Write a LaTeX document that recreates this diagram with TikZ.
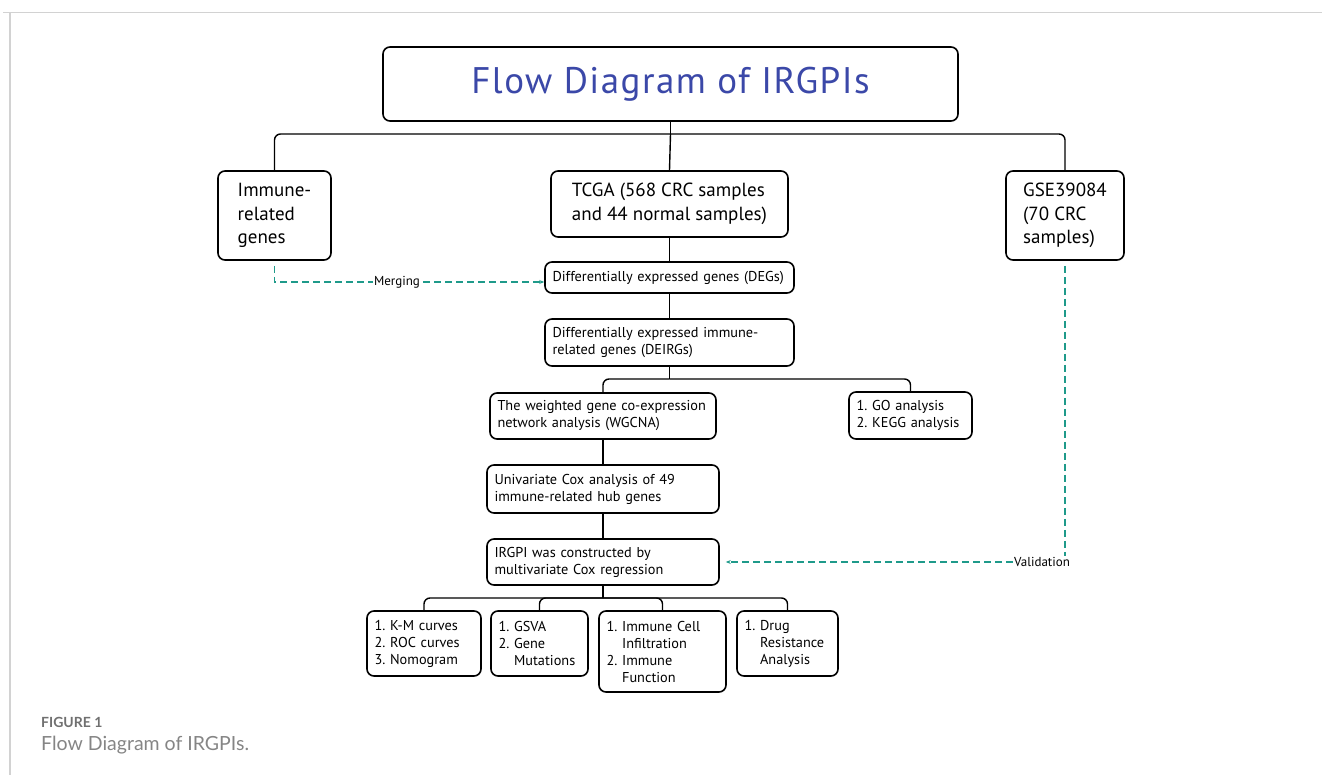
\documentclass[tikz,border=0pt]{standalone}
\usepackage{fontspec}
\setmainfont{PT Sans}
\newfontfamily\capfont{Lato}
\usetikzlibrary{arrows.meta,calc}
\frenchspacing
\definecolor{titleblue}{HTML}{3B48A8}
\definecolor{tealc}{HTML}{1F9A8A}
\definecolor{framegray}{HTML}{D2D2D2}
\definecolor{capgray}{HTML}{707070}
\definecolor{capgray2}{HTML}{858585}
\newcommand{\sm}{\fontsize{14.3}{17}\selectfont}
\newcommand{\bg}{\fontsize{19}{23.5}\selectfont}
\newcommand{\ind}{\phantom{1.~}}
\tikzset{
  box/.style={draw, line width=1.6pt, rounded corners=7pt, inner sep=0pt, align=left},
  bigbox/.style={box, font=\bg},
  smbox/.style={box, font=\sm, inner xsep=7.5pt},
  conn/.style={line width=1.4pt},
  bus/.style={line width=1.4pt, rounded corners=6pt},
  tealdash/.style={draw=tealc, line width=1.1pt, dash pattern=on 7pt off 4pt},
  tip/.style={-{Stealth[length=5pt,width=4pt]}},
  lbl/.style={font=\fontsize{13}{14}\selectfont, fill=white, inner sep=1pt}
}
\begin{document}
\begin{tikzpicture}[x=1pt,y=-1pt]
\useasboundingbox (0,0) rectangle (1322,775);
% frame
\draw[framegray, line width=1.3pt] (3,12.5) -- (1322,12.5);
\draw[framegray, line width=1.3pt] (10,12.5) -- (10,775);

% title
\node[box, minimum width=575pt, minimum height=74pt, align=center,
      font=\fontsize{37}{42}\selectfont, text=titleblue] (title) at (670.5,84)
      {\addfontfeature{LetterSpace=4}Flow Diagram of IRGPIs};

% level 1
\node[bigbox, minimum width=113pt, minimum height=89pt] (immune) at (274.5,215.5)
  {Immune-\\related\\genes};
\node[bigbox, minimum width=237pt, minimum height=66pt] (tcga) at (669.5,204)
  {TCGA (568 CRC samples\\and 44 normal samples)};
\node[bigbox, minimum width=118pt, minimum height=89pt] (gse) at (1065,215.5)
  {GSE39084\\(70 CRC\\samples)};

% chain
\node[smbox, text width=234pt, minimum height=31pt] (degs) at (669.5,277.5)
  {Differentially expressed genes (DEGs)};
\node[smbox, text width=234pt, minimum height=47pt] (deirgs) at (669.5,342.5)
  {Differentially expressed immune-\\related genes (DEIRGs)};
\node[smbox, text width=211pt, minimum height=46pt] (wgcna) at (603,416)
  {The weighted gene co-expression\\network analysis (WGCNA)};
\node[smbox, text width=108pt, minimum height=47pt] (go) at (910.5,415.5)
  {1. GO analysis\\2. KEGG analysis};
\node[smbox, text width=217pt, minimum height=48pt] (univ) at (603,489)
  {Univariate Cox analysis of 49\\immune-related hub genes};
\node[smbox, text width=217pt, minimum height=46pt] (irgpi) at (603,562)
  {IRGPI was constructed by\\multivariate Cox regression};

% bottom
\node[smbox, text width=99pt, minimum height=65pt] (km) at (424,643.5)
  {1. K-M curves\\2. ROC curves\\3. Nomogram};
\node[smbox, text width=82pt, minimum height=65pt] (gsva) at (539.5,643.5)
  {1. GSVA\\2. Gene\\\ind Mutations};
\node[smbox, text width=112pt, minimum height=81pt] (icell) at (662.5,651.5)
  {1. Immune Cell\\\ind Infiltration\\2. Immune\\\ind Function};
\node[smbox, text width=86pt, minimum height=65pt] (drug) at (787.5,643.5)
  {1. Drug\\\ind Resistance\\\ind Analysis};

% connectors
\coordinate (b1) at (title.south |- 0,134);
\draw[conn] (title.south) -- (b1);
\draw[bus] (b1) -| (immune.north);
\draw[bus] (b1) -| (gse.north);
\draw[conn] (b1) -- (tcga.north);
\draw[conn] (tcga.south) -- (degs.north);
\draw[conn] (degs.south) -- (deirgs.north);
\coordinate (b2) at (deirgs.south |- 0,379);
\draw[conn] (deirgs.south) -- (b2);
\draw[bus] (b2) -| (wgcna.north);
\draw[bus] (b2) -| (go.north);
\draw[conn] (wgcna.south) -- (univ.north);
\draw[conn] (univ.south) -- (irgpi.north);
\coordinate (b3) at (irgpi.south |- 0,598);
\draw[conn] (irgpi.south) -- (b3);
\draw[bus] (b3) -| (km.north);
\draw[bus] (b3) -| (gsva.north);
\draw[bus] (b3) -| (icell.north);
\draw[bus] (b3) -| (drug.north);

% merging
\draw[tealdash, tip] ([yshift=-5pt]immune.south) |- ([yshift=-4.5pt]degs.west);
\node[lbl] (merge) at (397,282) {Merging};

% validation
\node[lbl] (val) at (1042,562) {Validation};
\draw[tealdash] ([yshift=-5pt]gse.south) -- (gse.south |- val.north);
\draw[tealdash, tip] (val.west) -- ([xshift=6pt]irgpi.east |- val.west);

% caption
\node[anchor=base west, inner sep=0, font=\capfont\bfseries\fontsize{14}{15}\selectfont, text=capgray] (fig) at (41,727) {FIGURE 1};
\node[anchor=base west, inner sep=0, font=\capfont\fontsize{19.5}{22}\selectfont, text=capgray2] (cap) at (41,750) {Flow Diagram of IRGPIs.};
\end{tikzpicture}
\end{document}
